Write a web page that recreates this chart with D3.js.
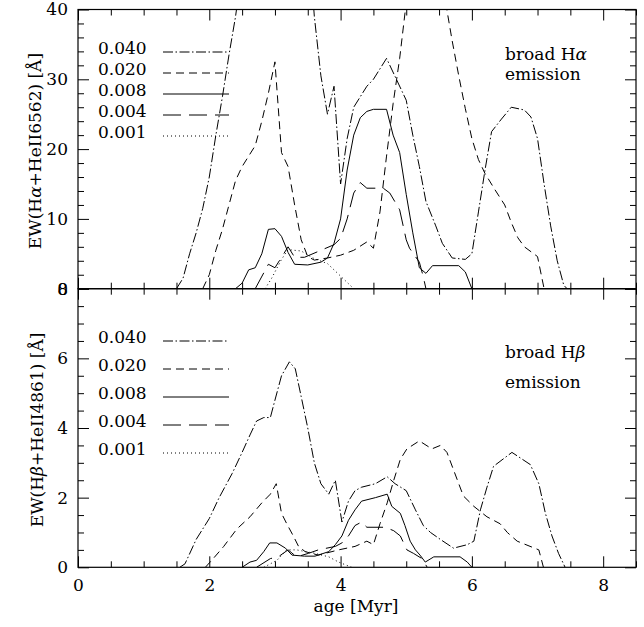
<!DOCTYPE html>
<html>
<head>
<meta charset="utf-8">
<script src="https://cdn.jsdelivr.net/npm/d3@7"></script>
<style>
  body { margin: 0; background: #fff; }
  svg { display: block; }
  text { font-family: "DejaVu Serif", serif; fill: #000; }
</style>
</head>
<body>
<svg id="chart" width="644" height="627"></svg>
<script>
// metallicity labels, in legend order
const metallicities = ["0.040", "0.020", "0.008", "0.004", "0.001"];

// tick values
const ageTicks = [0, 2, 4, 6, 8];
const haTicks = [0, 10, 20, 30, 40];
const hbTicks = [0, 2, 4, 6, 8];

// EW(Halpha + HeII 6562) vs age [Myr], [age, EW]
const ha040 = [[1.5,0],[1.6,1.5],[1.7,5],[1.8,8],[1.9,11.5],[2.0,16],[2.1,22],[2.2,27.5],[2.3,33.5],[2.4,39],[2.5,46],[2.6,52],
  [3.5,52],[3.6,39],[3.7,30.5],[3.8,25],[3.9,29],[4.0,15],[4.1,21.5],[4.2,26],[4.4,29],[4.5,30],[4.7,33],[4.85,30],[5.0,27],
  [5.1,22],[5.2,17.5],[5.3,12.5],[5.45,9],[5.55,6.5],[5.7,4.4],[5.9,4.2],[6.0,5],[6.1,11],[6.2,17],[6.3,22.5],[6.45,24.3],
  [6.6,26],[6.8,25.6],[6.9,24.6],[7.0,21.5],[7.1,15],[7.2,9],[7.3,4],[7.4,0.5],[7.45,0]];
const ha020 = [[1.9,0],[2.0,2],[2.1,5.5],[2.2,8.5],[2.3,12],[2.4,15.5],[2.5,17.5],[2.6,19],[2.7,20.5],[2.8,24],[2.9,28],
  [3.0,32.5],[3.1,19.5],[3.2,17.5],[3.3,12],[3.4,7],[3.5,4.6],[3.6,4.1],[3.8,4.4],[4.0,4.8],[4.2,5.5],[4.4,6.7],[4.5,5.8],
  [4.6,11],[4.7,19],[4.8,26.5],[4.9,33],[5.0,41],[5.1,48],[5.5,48],[5.6,41],[5.7,35.5],[5.8,30.5],[5.9,25.8],[6.0,21.5],
  [6.1,18.5],[6.2,16.5],[6.35,14.2],[6.5,12],[6.6,9.5],[6.7,7.3],[6.8,6.0],[7.0,4.6],[7.1,0]];
const ha008 = [[2.4,0],[2.5,0.8],[2.6,2.7],[2.7,3.0],[2.8,5.0],[2.9,8.5],[3.0,8.6],[3.1,7.5],[3.2,5.2],[3.3,3.5],[3.5,3.4],
  [3.7,3.8],[3.8,4.4],[3.9,6.5],[4.0,10],[4.1,17],[4.2,22],[4.3,24.5],[4.4,25.4],[4.5,25.7],[4.7,25.7],[4.8,22],[4.9,19.5],
  [5.0,13.5],[5.1,8],[5.2,3],[5.3,2.2],[5.4,3.3],[5.8,3.3],[5.9,2.4],[6.0,0]];
const ha004 = [[2.7,0],[2.9,3.5],[3.0,3.0],[3.1,4.5],[3.2,6.0],[3.3,4.5],[3.45,4.5],[3.7,5.5],[3.9,6.3],[4.0,7.2],[4.1,10],
  [4.2,13.7],[4.3,15.2],[4.4,14.4],[4.65,14.4],[4.75,13.7],[4.9,11.3],[5.0,7],[5.05,5.8],[5.2,3.8],[5.26,1.7],[5.3,0]];
const ha001 = [[2.85,0],[2.95,1.5],[3.1,4.2],[3.2,5.6],[3.4,5.4],[3.6,4.3],[3.8,3.6],[4.0,1.8],[4.1,0.9],[4.2,0]];

// EW(Hbeta + HeII 4861) vs age [Myr], [age, EW]
const hb040 = [[1.55,0],[1.63,0.1],[1.8,0.8],[2.0,1.4],[2.15,2.0],[2.35,2.7],[2.5,3.3],[2.62,3.8],[2.72,4.2],[2.83,4.3],
  [2.93,4.3],[3.0,4.8],[3.1,5.5],[3.22,5.9],[3.31,5.7],[3.4,4.9],[3.5,4.0],[3.6,3.0],[3.7,2.4],[3.82,2.1],[3.92,2.5],
  [4.02,1.3],[4.12,1.9],[4.22,2.2],[4.32,2.3],[4.53,2.4],[4.71,2.6],[4.83,2.4],[5.0,2.2],[5.14,1.65],[5.26,1.2],[5.37,1.0],
  [5.52,0.8],[5.72,0.55],[5.93,0.65],[6.03,0.75],[6.13,1.65],[6.23,2.3],[6.33,2.9],[6.61,3.3],[6.89,2.95],[7.02,2.4],
  [7.12,1.55],[7.22,0.9],[7.32,0.4],[7.42,0]];
const hb020 = [[1.94,0],[2.06,0.25],[2.22,0.6],[2.42,1.1],[2.62,1.45],[2.8,1.85],[2.93,2.1],[3.02,2.4],[3.1,1.55],[3.18,1.25],
  [3.28,0.9],[3.36,0.6],[3.46,0.45],[3.66,0.35],[3.97,0.5],[4.22,0.6],[4.4,0.75],[4.5,0.65],[4.6,1.25],[4.71,1.85],[4.81,2.5],
  [4.91,3.1],[5.01,3.4],[5.2,3.63],[5.39,3.4],[5.52,3.5],[5.62,3.3],[5.72,2.8],[5.87,2.05],[6.03,1.75],[6.23,1.45],
  [6.43,1.25],[6.54,1.0],[6.69,0.75],[7.02,0.5],[7.09,0]];
const hb008 = [[2.5,0],[2.62,0.15],[2.72,0.2],[2.83,0.45],[2.92,0.7],[3.03,0.7],[3.16,0.55],[3.26,0.35],[3.45,0.32],[3.61,0.32],
  [3.82,0.45],[3.92,0.65],[4.02,0.9],[4.12,1.35],[4.22,1.65],[4.32,1.9],[4.53,2.0],[4.71,2.1],[4.78,1.75],[4.91,1.55],
  [4.98,1.2],[5.06,0.75],[5.14,0.5],[5.21,0.35],[5.29,0.15],[5.42,0.3],[5.82,0.3],[5.93,0.15],[6.0,0]];
const hb004 = [[2.72,0],[2.93,0.25],[3.05,0.3],[3.2,0.5],[3.33,0.3],[3.51,0.4],[3.66,0.5],[3.92,0.6],[4.02,0.7],[4.12,0.9],
  [4.22,1.2],[4.32,1.3],[4.4,1.15],[4.68,1.15],[4.81,1.05],[4.91,0.9],[5.01,0.5],[5.11,0.4],[5.24,0.25],[5.32,0]];
const hb001 = [[2.83,0],[3.03,0.2],[3.18,0.5],[3.33,0.5],[3.61,0.4],[3.82,0.3],[3.97,0.15],[4.17,0]];

// line styles per metallicity (dash-dot, dash, solid, long dash, dotted)
const lineDash = ["10,2.5,1.5,2.5", "8,5", null, "18,8", "1,3"];

const svg = d3.select("#chart");
const fontSize = 17;

const x = d3.scaleLinear().domain([0, 8.5]).range([78, 636]);

const panels = [
  {
    id: "ha", series: [ha040, ha020, ha008, ha004, ha001],
    domain: [0, 40], range: [288.7, 9.5], ticks: haTicks, minorStep: 2,
    label: ["EW(H", "\u03B1", "+HeII6562) [\u00C5]"], labelX: 41,
    title: ["broad H", "\u03B1"], legendY: 52, legendStep: 21, titleY: 60, titleGap: 20,
    showAge: false
  },
  {
    id: "hb", series: [hb040, hb020, hb008, hb004, hb001],
    domain: [0, 8], range: [567.3, 288.7], ticks: hbTicks, minorStep: 0.5,
    label: ["EW(H", "\u03B2", "+HeII4861) [\u00C5]"], labelX: 43,
    title: ["broad H", "\u03B2"], legendY: 341, legendStep: 28, titleY: 358, titleGap: 30,
    showAge: true
  }
];

const ageMinor = d3.range(0, 8.5001, 0.5).filter(v => Math.abs(v % 2) > 1e-9);

function styleAxis(sel) {
  sel.select(".domain").remove();
  sel.selectAll("line").attr("stroke", "#000").attr("stroke-width", 1);
  sel.selectAll("text")
    .style("font-family", '"DejaVu Serif", serif')
    .style("font-size", fontSize + "px")
    .attr("fill", "#000");
}

panels.forEach(p => {
  const y = d3.scaleLinear().domain(p.domain).range(p.range);
  const top = p.range[1], bottom = p.range[0];
  const left = x.range()[0], right = x.range()[1];
  const yMinor = d3.range(p.domain[0], p.domain[1] + 1e-9, p.minorStep)
    .filter(v => !p.ticks.some(t => Math.abs(t - v) < 1e-9));

  // clip so the high peaks are cut at the frame
  svg.append("clipPath").attr("id", "clip-" + p.id)
    .append("rect")
    .attr("x", left).attr("y", top)
    .attr("width", right - left).attr("height", bottom - top);

  const line = d3.line().x(d => x(d[0])).y(d => y(d[1]));
  const g = svg.append("g").attr("clip-path", `url(#clip-${p.id})`);
  p.series.forEach((s, i) => {
    g.append("path")
      .datum(s)
      .attr("d", line)
      .attr("fill", "none")
      .attr("stroke", "#000")
      .attr("stroke-width", 1)
      .attr("stroke-dasharray", lineDash[i]);
  });

  // ticks, all pointing inward
  svg.append("g").attr("transform", `translate(${left},0)`)
    .call(d3.axisLeft(y).tickValues(p.ticks).tickSize(-11).tickPadding(10).tickFormat(d3.format("d")))
    .call(styleAxis);
  svg.append("g").attr("transform", `translate(${left},0)`)
    .call(d3.axisLeft(y).tickValues(yMinor).tickSize(-6).tickFormat(""))
    .call(styleAxis);
  svg.append("g").attr("transform", `translate(${right},0)`)
    .call(d3.axisRight(y).tickValues(p.ticks).tickSize(-11).tickFormat(""))
    .call(styleAxis);
  svg.append("g").attr("transform", `translate(${right},0)`)
    .call(d3.axisRight(y).tickValues(yMinor).tickSize(-6).tickFormat(""))
    .call(styleAxis);
  svg.append("g").attr("transform", `translate(0,${top})`)
    .call(d3.axisTop(x).tickValues(ageTicks).tickSize(-11).tickFormat(""))
    .call(styleAxis);
  svg.append("g").attr("transform", `translate(0,${top})`)
    .call(d3.axisTop(x).tickValues(ageMinor).tickSize(-6).tickFormat(""))
    .call(styleAxis);
  svg.append("g").attr("transform", `translate(0,${bottom})`)
    .call(d3.axisBottom(x).tickValues(ageTicks).tickSize(-11).tickPadding(12)
      .tickFormat(p.showAge ? d3.format("d") : ""))
    .call(styleAxis);
  svg.append("g").attr("transform", `translate(0,${bottom})`)
    .call(d3.axisBottom(x).tickValues(ageMinor).tickSize(-6).tickFormat(""))
    .call(styleAxis);

  // frame
  svg.append("rect")
    .attr("x", left).attr("y", top)
    .attr("width", right - left).attr("height", bottom - top)
    .attr("fill", "none").attr("stroke", "#000").attr("stroke-width", 1.2);

  // y label
  const yl = svg.append("text")
    .attr("transform", `translate(${p.labelX},${(top + bottom) / 2 + 2}) rotate(-90)`)
    .attr("text-anchor", "middle")
    .style("font-size", fontSize + "px");
  yl.append("tspan").text(p.label[0]);
  yl.append("tspan").style("font-style", "italic").text(p.label[1]);
  yl.append("tspan").text(p.label[2]);

  // legend
  metallicities.forEach((m, i) => {
    const ly = p.legendY + i * p.legendStep;
    svg.append("text")
      .attr("x", 98).attr("y", ly + 1.5)
      .style("font-size", fontSize + "px")
      .text(m);
    svg.append("line")
      .attr("x1", 163).attr("x2", 229)
      .attr("y1", ly).attr("y2", ly)
      .attr("stroke", "#000").attr("stroke-width", 1)
      .attr("stroke-dasharray", lineDash[i]);
  });

  // panel note
  const t = svg.append("text")
    .attr("x", 505).attr("y", p.titleY)
    .style("font-size", fontSize + "px");
  t.append("tspan").text(p.title[0]);
  t.append("tspan").style("font-style", "italic").text(p.title[1]);
  svg.append("text")
    .attr("x", 505).attr("y", p.titleY + p.titleGap)
    .style("font-size", fontSize + "px")
    .text("emission");
});

// x label
svg.append("text")
  .attr("x", 356).attr("y", 612)
  .attr("text-anchor", "middle")
  .style("font-size", fontSize + "px")
  .text("age [Myr]");
</script>
</body>
</html>
